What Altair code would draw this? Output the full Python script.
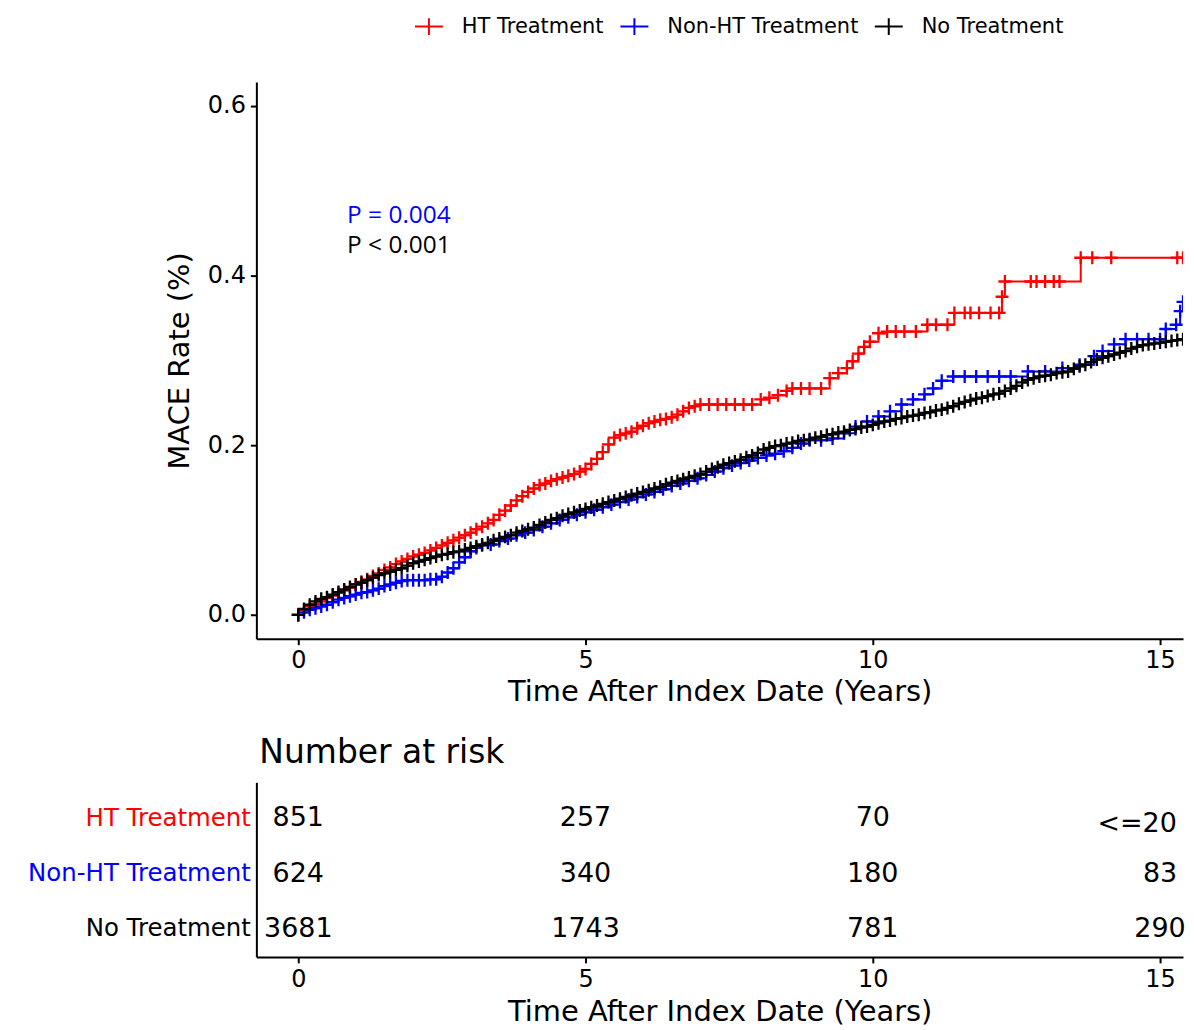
import altair as alt
import pandas as pd

groups = ["HT Treatment", "Non-HT Treatment", "No Treatment"]
colors = ["#ff0000", "#0000ff", "#000000"]

# HT Treatment (red)
ht_t = [0.0, 0.1, 0.2, 0.3, 0.4, 0.5, 0.6, 0.7, 0.8, 0.9, 1.0, 1.1, 1.2, 1.3, 1.4, 1.5, 1.6, 1.7, 1.8,
        1.9, 2.0, 2.1, 2.2, 2.3, 2.4, 2.5, 2.6, 2.7, 2.8, 2.9, 3.0, 3.1, 3.2, 3.3, 3.4, 3.5, 3.6, 3.7,
        3.8, 3.9, 4.0, 4.1, 4.2, 4.3, 4.4, 4.5, 4.6, 4.7, 4.8, 4.9, 5.0, 5.1, 5.2, 5.3, 5.4, 5.5, 5.6,
        5.7, 5.8, 5.9, 6.0, 6.1, 6.2, 6.3, 6.4, 6.5, 6.6, 6.7, 6.8, 6.9, 7.0, 7.15, 7.3, 7.45, 7.6,
        7.75, 7.9, 8.05, 8.2, 8.35, 8.5, 8.6, 8.75, 8.9, 9.1, 9.25, 9.4, 9.55, 9.65, 9.75, 9.85, 9.95,
        10.1, 10.25, 10.4, 10.55, 10.75, 10.95, 11.1, 11.3, 11.42, 11.6, 11.7, 11.85, 12.05, 12.2,
        12.25, 12.3, 12.75, 12.85, 13.0, 13.15, 13.25, 13.62, 13.82, 14.15, 15.3, 15.4]
ht_v = [0.000, 0.006, 0.010, 0.013, 0.016, 0.020, 0.023, 0.026, 0.029, 0.032, 0.036, 0.039, 0.042,
        0.046, 0.049, 0.053, 0.056, 0.060, 0.063, 0.066, 0.069, 0.071, 0.073, 0.076, 0.079, 0.082,
        0.085, 0.088, 0.091, 0.094, 0.097, 0.101, 0.104, 0.108, 0.112, 0.118, 0.123, 0.129, 0.135,
        0.140, 0.145, 0.149, 0.153, 0.155, 0.158, 0.160, 0.162, 0.164, 0.166, 0.169, 0.172, 0.178,
        0.184, 0.192, 0.201, 0.209, 0.212, 0.214, 0.216, 0.220, 0.223, 0.226, 0.228, 0.230, 0.231,
        0.233, 0.236, 0.240, 0.244, 0.246, 0.248, 0.248, 0.248, 0.248, 0.248, 0.248, 0.248, 0.254,
        0.256, 0.259, 0.264, 0.267, 0.267, 0.267, 0.267, 0.279, 0.285, 0.291, 0.299, 0.308, 0.316,
        0.322, 0.332, 0.334, 0.334, 0.334, 0.334, 0.342, 0.342, 0.342, 0.356, 0.356, 0.356, 0.356,
        0.356, 0.356, 0.375, 0.393, 0.393, 0.393, 0.393, 0.393, 0.393, 0.421, 0.421, 0.421, 0.421,
        0.421]

# Non-HT Treatment (blue)
nht_t = [0.0, 0.1, 0.2, 0.3, 0.4, 0.5, 0.6, 0.7, 0.8, 0.9, 1.0, 1.1, 1.2, 1.3, 1.4, 1.5, 1.6, 1.7,
         1.8, 1.9, 2.0, 2.1, 2.2, 2.3, 2.4, 2.5, 2.6, 2.7, 2.8, 2.9, 3.0, 3.1, 3.2, 3.35, 3.5, 3.65,
         3.8, 3.95, 4.1, 4.25, 4.4, 4.55, 4.7, 4.85, 5.0, 5.15, 5.3, 5.45, 5.6, 5.75, 5.9, 6.05, 6.2,
         6.35, 6.5, 6.65, 6.8, 6.95, 7.1, 7.25, 7.4, 7.55, 7.7, 7.85, 8.0, 8.15, 8.3, 8.45, 8.6, 8.75,
         8.9, 9.1, 9.3, 9.5, 9.7, 9.9, 10.1, 10.3, 10.5, 10.7, 10.9, 11.05, 11.2, 11.4, 11.6, 11.8,
         12.0, 12.2, 12.4, 12.7, 13.0, 13.3, 13.6, 13.85, 14.0, 14.2, 14.4, 14.6, 14.8, 15.0, 15.1,
         15.28, 15.35, 15.4]
nht_v = [0.000, 0.003, 0.006, 0.008, 0.010, 0.012, 0.015, 0.018, 0.020, 0.022, 0.024, 0.026, 0.027,
         0.029, 0.031, 0.034, 0.036, 0.038, 0.040, 0.041, 0.041, 0.041, 0.041, 0.042, 0.042, 0.045,
         0.050, 0.055, 0.062, 0.068, 0.075, 0.079, 0.082, 0.083, 0.087, 0.090, 0.094, 0.097, 0.100,
         0.104, 0.108, 0.112, 0.115, 0.118, 0.121, 0.124, 0.127, 0.130, 0.133, 0.136, 0.139, 0.142,
         0.145, 0.148, 0.152, 0.155, 0.158, 0.161, 0.165, 0.169, 0.173, 0.176, 0.179, 0.182, 0.185,
         0.188, 0.190, 0.193, 0.197, 0.202, 0.206, 0.206, 0.208, 0.214, 0.222, 0.228, 0.234, 0.240,
         0.248, 0.254, 0.260, 0.267, 0.276, 0.281, 0.281, 0.281, 0.281, 0.281, 0.281, 0.287, 0.287,
         0.291, 0.295, 0.305, 0.311, 0.319, 0.325, 0.325, 0.325, 0.325, 0.337, 0.342, 0.358, 0.369]

# No Treatment (black)
no_t = [0.0, 0.1, 0.2, 0.3, 0.4, 0.5, 0.6, 0.7, 0.8, 0.9, 1.0, 1.1, 1.2, 1.3, 1.4, 1.5, 1.6, 1.7, 1.8,
        1.9, 2.0, 2.1, 2.2, 2.3, 2.4, 2.5, 2.6, 2.7, 2.8, 2.9, 3.0, 3.1, 3.2, 3.3, 3.4, 3.5, 3.6, 3.7,
        3.8, 3.9, 4.0, 4.1, 4.2, 4.3, 4.4, 4.5, 4.6, 4.7, 4.8, 4.9, 5.0, 5.1, 5.2, 5.3, 5.4, 5.5, 5.6,
        5.7, 5.8, 5.9, 6.0, 6.1, 6.2, 6.3, 6.4, 6.5, 6.6, 6.7, 6.8, 6.9, 7.0, 7.1, 7.2, 7.3, 7.4, 7.5,
        7.6, 7.7, 7.8, 7.9, 8.0, 8.1, 8.2, 8.3, 8.4, 8.5, 8.6, 8.7, 8.8, 8.9, 9.0, 9.1, 9.2, 9.3, 9.4,
        9.5, 9.6, 9.7, 9.8, 9.9, 10.0, 10.1, 10.2, 10.3, 10.4, 10.5, 10.6, 10.7, 10.8, 10.9, 11.0,
        11.1, 11.2, 11.3, 11.4, 11.5, 11.6, 11.7, 11.8, 11.9, 12.0, 12.1, 12.2, 12.3, 12.4, 12.5,
        12.6, 12.7, 12.8, 12.9, 13.0, 13.1, 13.2, 13.3, 13.4, 13.5, 13.6, 13.7, 13.8, 13.9, 14.0,
        14.1, 14.2, 14.3, 14.4, 14.5, 14.6, 14.7, 14.8, 14.9, 15.0, 15.1, 15.2, 15.3, 15.4]
no_v = [0.000, 0.007, 0.012, 0.016, 0.019, 0.021, 0.024, 0.027, 0.030, 0.033, 0.036, 0.038, 0.041,
        0.044, 0.047, 0.049, 0.051, 0.053, 0.055, 0.058, 0.061, 0.063, 0.065, 0.067, 0.069, 0.071,
        0.072, 0.074, 0.075, 0.077, 0.079, 0.081, 0.083, 0.085, 0.088, 0.090, 0.092, 0.094, 0.097,
        0.099, 0.101, 0.103, 0.106, 0.109, 0.112, 0.114, 0.117, 0.119, 0.121, 0.123, 0.125, 0.127,
        0.129, 0.131, 0.133, 0.135, 0.137, 0.139, 0.141, 0.143, 0.145, 0.147, 0.149, 0.151, 0.154,
        0.156, 0.158, 0.160, 0.162, 0.164, 0.166, 0.169, 0.172, 0.174, 0.177, 0.179, 0.181, 0.183,
        0.186, 0.188, 0.191, 0.195, 0.197, 0.199, 0.200, 0.202, 0.203, 0.205, 0.206, 0.207, 0.209,
        0.210, 0.212, 0.213, 0.215, 0.216, 0.218, 0.219, 0.221, 0.222, 0.224, 0.226, 0.228, 0.229,
        0.231, 0.232, 0.234, 0.235, 0.236, 0.238, 0.239, 0.241, 0.242, 0.244, 0.246, 0.249, 0.251,
        0.253, 0.255, 0.256, 0.258, 0.260, 0.261, 0.264, 0.267, 0.270, 0.274, 0.277, 0.279, 0.281,
        0.282, 0.283, 0.285, 0.286, 0.287, 0.290, 0.293, 0.295, 0.298, 0.301, 0.303, 0.305, 0.307,
        0.309, 0.311, 0.314, 0.316, 0.318, 0.319, 0.320, 0.321, 0.322, 0.323, 0.324, 0.325]

risk_times = [0, 5, 10, 15]
risk_ht = ["851", "257", "70", "<=20"]
risk_nht = ["624", "340", "180", "83"]
risk_no = ["3681", "1743", "781", "290"]

rows = []
for g, ts, vs in zip(groups, [ht_t, nht_t, no_t], [ht_v, nht_v, no_v]):
    for t, v in zip(ts, vs):
        rows.append({"group": g, "t": t, "v": v})
df = pd.DataFrame(rows)

rrows = []
for g, arr in zip(groups, [risk_ht, risk_nht, risk_no]):
    for t, lab in zip(risk_times, arr):
        rrows.append({"group": g, "t": t, "label": lab})
rdf = pd.DataFrame(rrows)

FONT = "DejaVu Sans"
W = 929
xdom = [-0.729, 15.40]

legend = alt.Legend(
    title=None, orient="none", legendX=158, legendY=-71, direction="horizontal",
    symbolType="M-1,0H1M0,-0.6V0.6", symbolSize=784, symbolStrokeWidth=2, labelLimit=400,
    labelFontSize=21, labelFont=FONT, labelColor="black", labelOffset=18, columnPadding=12,
)
color = alt.Color("group:N", scale=alt.Scale(domain=groups, range=colors), legend=legend)

xax = alt.Axis(values=[0, 5, 10, 15], title="Time After Index Date (Years)", format="d",
               labelFontSize=24, titleFontSize=29, titlePadding=5, labelPadding=4)
xax_tab = alt.Axis(values=[0, 5, 10, 15], title="Time After Index Date (Years)", format="d",
                   labelFontSize=24, titleFontSize=29, titlePadding=6, labelPadding=5)
x = alt.X("t:Q", scale=alt.Scale(domain=xdom, nice=False, zero=False), axis=xax)
y = alt.Y("v:Q", scale=alt.Scale(domain=[-0.028, 0.628], nice=False, zero=False),
          axis=alt.Axis(values=[0, 0.2, 0.4, 0.6], format=".1f", title="MACE Rate (%)",
                        labelFontSize=24, titleFontSize=29, titlePadding=13, labelPadding=5))

base = alt.Chart(df)
lines = base.mark_line(interpolate="step-after", strokeWidth=2, clip=True).encode(
    x=x, y=y, color=color, order=alt.Order("t:Q"))
marks = base.mark_point(shape="M-1,0H1M0,-1V1", size=169, strokeWidth=2.3, filled=False,
                        opacity=1, clip=True).encode(x=x, y=y, color=color)
p1 = alt.Chart().mark_text(text="P = 0.004", align="left", baseline="middle", fontSize=24.5,
                           font="Open Sans", color="#0000ff").encode(
    x=alt.datum(0.85), y=alt.datum(0.470))
p2 = alt.Chart().mark_text(text="P < 0.001", align="left", baseline="middle", fontSize=24.5,
                           font="Open Sans", color="#000000").encode(
    x=alt.datum(0.85), y=alt.datum(0.435))

main = alt.layer(lines, marks, p1, p2).properties(width=W, height=558)

ytab = alt.Y("group:N", scale=alt.Scale(domain=groups, type="point", padding=0.58),
             axis=alt.Axis(title=None, ticks=False, labelFontSize=24.5, labelPadding=6, labelLimit=400,
                           labelOffset=4,
                           labelColor=alt.ExprRef(
                               "datum.value == 'HT Treatment' ? '#ff0000' : "
                               "datum.value == 'Non-HT Treatment' ? '#0000ff' : '#000000'")))
xtab = alt.X("t:Q", scale=alt.Scale(domain=xdom, nice=False, zero=False), axis=xax_tab)

tbase = alt.Chart(rdf)
t1 = tbase.transform_filter("datum.label != '<=20'").mark_text(
    fontSize=27, font=FONT, color="black", baseline="middle", dy=4).encode(
    x=xtab, y=ytab, text="label:N")
t2 = tbase.transform_filter("datum.label == '<=20'").mark_text(
    fontSize=27, font=FONT, color="black", baseline="middle", dx=-23, dy=10).encode(
    x=xtab, y=ytab, text="label:N")

table = alt.layer(t1, t2).properties(
    width=W, height=175,
    title=alt.TitleParams("Number at risk", anchor="start", frame="group", fontSize=33,
                          font=FONT, fontWeight="normal", color="black", dx=3, offset=12))

chart = alt.vconcat(main, table, spacing=31).properties(
    padding={"left": 19, "top": 2, "right": 0, "bottom": 0}
).configure_view(stroke=None).configure_axis(
    labelFont=FONT, titleFont=FONT, titleFontWeight="normal", labelColor="black", titleColor="black",
    domainColor="black", domainWidth=2, tickColor="black", tickWidth=2, tickSize=6, grid=False
)

chart.save("out.html", embed_options={"renderer": "svg", "actions": False})
